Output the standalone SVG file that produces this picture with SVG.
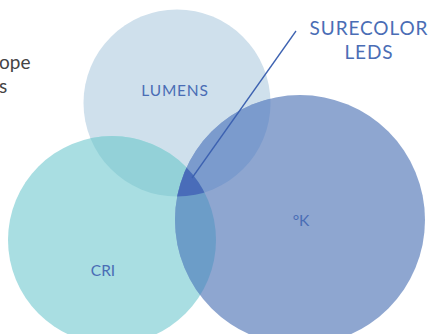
<svg xmlns="http://www.w3.org/2000/svg" width="435" height="334" viewBox="0 0 435 334">
<style>
.lbl{font-family:"Lato","Liberation Sans",sans-serif;fill:#4a6db5;text-anchor:middle}
.side{font-family:"Lato","Liberation Sans",sans-serif;fill:#444;font-size:19px}
</style>
<defs>
<clipPath id="cL"><circle cx="177" cy="103" r="93.5"/></clipPath>
<clipPath id="cC"><circle cx="112" cy="240" r="104"/></clipPath>
<clipPath id="cK"><circle cx="300" cy="220" r="125"/></clipPath>
</defs>
<rect width="435" height="334" fill="#fff"/>
<g id="side-text">
<text class="side" x="-1" y="69">ope</text>
<text class="side" x="-1" y="93">s</text>
</g>
<g id="lumens">
<circle cx="177" cy="103" r="93.5" fill="#cfe0ec"/>
</g>
<g id="cri">
<circle cx="112" cy="240" r="104" fill="#a9dee2"/>
<circle cx="112" cy="240" r="104" fill="#93d1d8" clip-path="url(#cL)"/>
</g>
<g id="kelvin">
<circle cx="300" cy="220" r="125" fill="#8ea6d0"/>
<circle cx="300" cy="220" r="125" fill="#7b9bcd" clip-path="url(#cL)"/>
<circle cx="300" cy="220" r="125" fill="#6c9dc8" clip-path="url(#cC)"/>
<g clip-path="url(#cL)"><circle cx="300" cy="220" r="125" fill="#496cb9" clip-path="url(#cC)"/></g>
</g>
<g id="connectors">
<line x1="296" y1="31" x2="192" y2="178" stroke="#3d62b1" stroke-width="1.3"/>
</g>
<g id="labels">
<text class="lbl" x="175" y="96" font-size="15.5" letter-spacing="0.8">LUMENS</text>
<text class="lbl" x="301" y="226" font-size="15.5">°K</text>
<text class="lbl" x="103" y="276" font-size="15.5">CRI</text>
<text class="lbl" x="369" y="35" font-size="19" letter-spacing="0.9">SURECOLOR</text>
<text class="lbl" x="369" y="59" font-size="19" letter-spacing="0.9">LEDS</text>
</g>
</svg>
